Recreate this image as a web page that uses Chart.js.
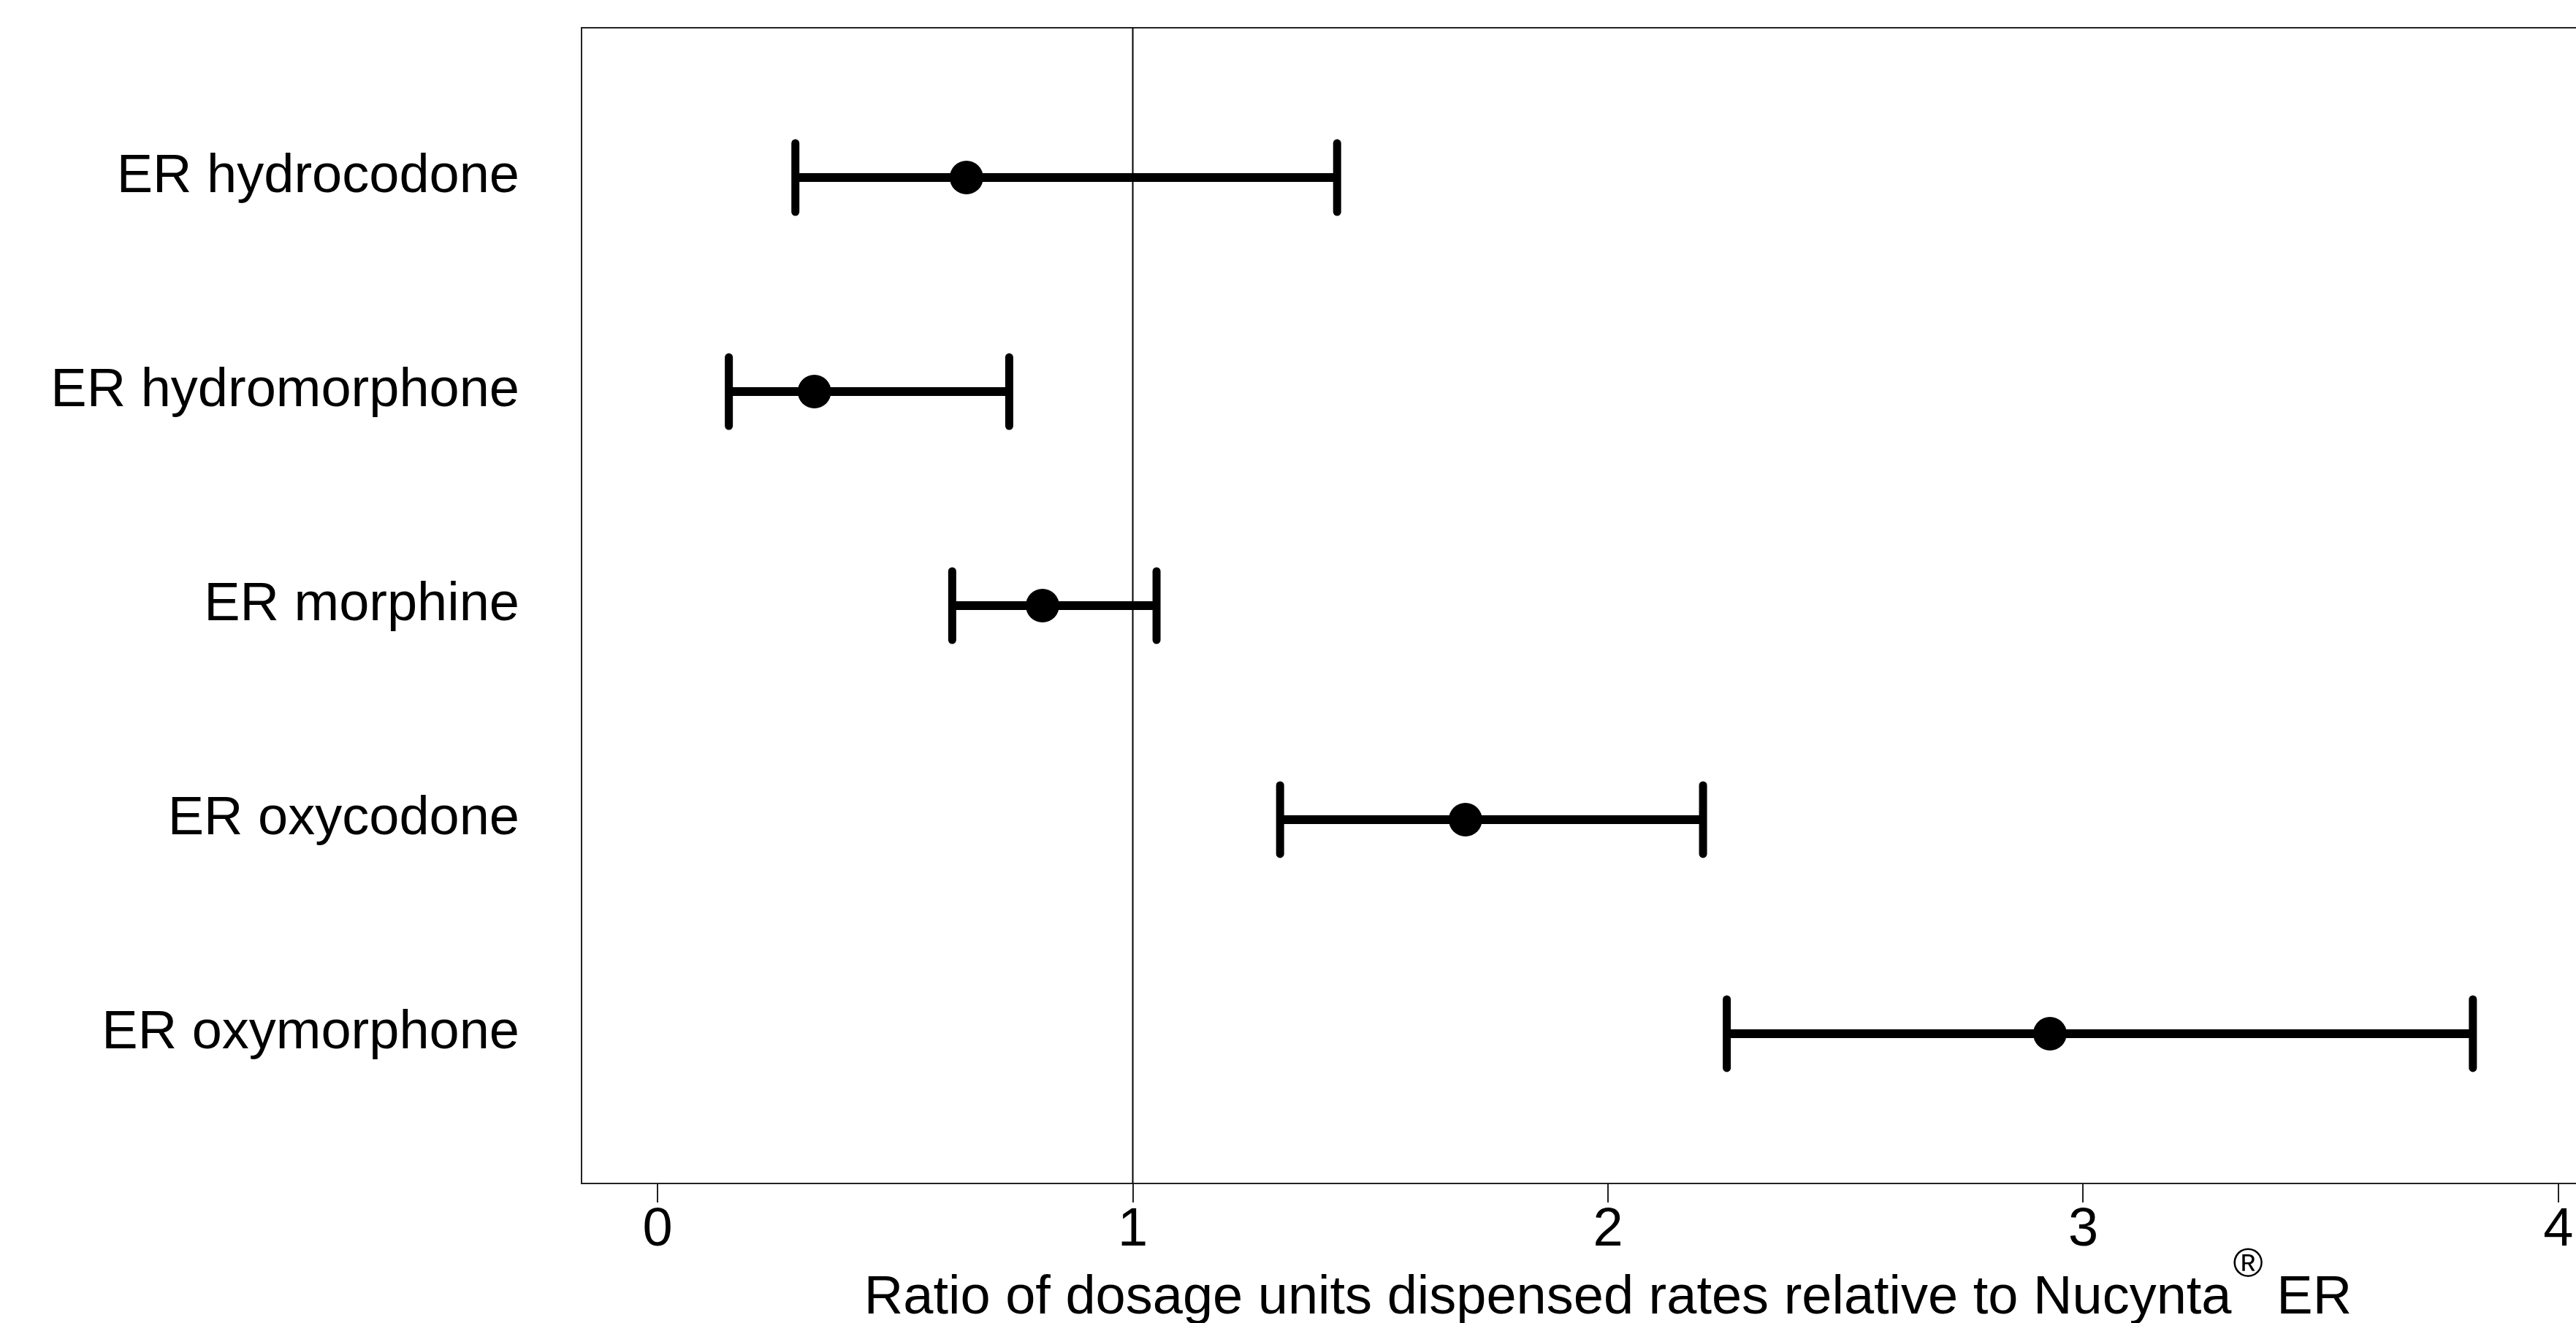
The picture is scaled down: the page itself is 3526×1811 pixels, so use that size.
<!DOCTYPE html>
<html>
<head>
<meta charset="utf-8">
<title>Dosage units ratio</title>
<script src="https://cdn.jsdelivr.net/npm/chart.js@4.4.1/dist/chart.umd.min.js"></script>
<style>
  html, body { margin: 0; padding: 0; background: #fff; overflow: hidden; }
  #wrap { width: 3640px; height: 1811px; }
</style>
</head>
<body>
<div id="wrap"><canvas id="forest"></canvas></div>
<script>
// values
const categories = ['ER hydrocodone', 'ER hydromorphone', 'ER morphine', 'ER oxycodone', 'ER oxymorphone'];
const estimates = [0.65, 0.33, 0.81, 1.70, 2.93];
const lower = [0.29, 0.15, 0.62, 1.31, 2.25];
const upper = [1.43, 0.74, 1.05, 2.20, 3.82];
const xTicks = [0, 1, 2, 3, 4];
const refValue = 1;

const FONT = '"Liberation Sans", Arial, sans-serif';

// one line dataset per row, caps drawn as vertical 'line' points
const barSets = categories.map((name, i) => ({
    label: name,
    type: 'scatter',
    showLine: true,
    data: [{ x: lower[i], y: i + 1 }, { x: upper[i], y: i + 1 }],
    borderColor: '#000',
    borderWidth: 12,
    pointStyle: 'line',
    rotation: 90,
    pointRadius: 47,
    pointBorderWidth: 11,
    pointBorderColor: '#000',
    order: 1,
    clip: false
}));

// box round the plot area + x axis title with superscript mark
const framePlugin = {
    id: 'frame',
    beforeDatasetsDraw(chart) {
        const { ctx, chartArea } = chart;
        ctx.save();
        ctx.strokeStyle = '#222';
        ctx.lineWidth = 2;
        ctx.strokeRect(chartArea.left, chartArea.top, chartArea.right - chartArea.left, chartArea.bottom - chartArea.top);
        ctx.restore();
        ctx.lineCap = 'round';
    },
    afterDraw(chart) {
        const { ctx, chartArea } = chart;
        const main = 'Ratio of dosage units dispensed rates relative to Nucynta';
        const mark = '\u00AE';
        const tail = ' ER';
        ctx.save();
        ctx.fillStyle = '#000';
        ctx.textBaseline = 'alphabetic';
        ctx.textAlign = 'left';
        ctx.font = '74px ' + FONT;
        const wMain = ctx.measureText(main).width;
        const wTail = ctx.measureText(tail).width;
        ctx.font = '56px ' + FONT;
        const wMark = ctx.measureText(mark).width;
        const total = wMain + wMark + wTail;
        let x = (chartArea.left + chartArea.right) / 2 - total / 2;
        const base = 1798;
        ctx.font = '74px ' + FONT;
        ctx.fillText(main, x, base);
        x += wMain;
        ctx.font = '56px ' + FONT;
        ctx.fillText(mark, x + 2, base - 50);
        x += wMark;
        ctx.font = '74px ' + FONT;
        ctx.fillText(tail, x, base);
        ctx.restore();
    }
};

new Chart(document.getElementById('forest'), {
    type: 'scatter',
    data: {
        datasets: [
            {
                label: 'Estimate',
                data: estimates.map((v, i) => ({ x: v, y: i + 1 })),
                pointRadius: 23,
                pointBackgroundColor: '#000',
                pointBorderWidth: 0,
                order: 0,
                clip: false
            },
            ...barSets,
            {
                label: 'Reference',
                showLine: true,
                data: [{ x: refValue, y: 0.3 }, { x: refValue, y: 5.7 }],
                borderColor: '#000',
                borderWidth: 2,
                pointRadius: 0,
                order: 2
            }
        ]
    },
    options: {
        responsive: true,
        maintainAspectRatio: false,
        devicePixelRatio: 1,
        animation: false,
        events: [],
        layout: { autoPadding: false, padding: { top: 38, right: 34, bottom: 0, left: 0 } },
        plugins: {
            legend: { display: false },
            tooltip: { enabled: false }
        },
        scales: {
            x: {
                type: 'linear',
                min: -0.16,
                max: 4.16,
                afterBuildTicks: scale => { scale.ticks = xTicks.map(v => ({ value: v })); },
                afterFit: scale => { scale.height = 191; },
                border: { display: false },
                grid: {
                    display: true,
                    drawOnChartArea: false,
                    drawTicks: true,
                    tickLength: 26,
                    color: '#222',
                    lineWidth: 2
                },
                ticks: {
                    color: '#000',
                    padding: 2,
                    maxRotation: 0,
                    font: { family: FONT, size: 74, lineHeight: 1 }
                }
            },
            y: {
                type: 'linear',
                min: 0.3,
                max: 5.7,
                reverse: true,
                afterBuildTicks: scale => { scale.ticks = categories.map((_, i) => ({ value: i + 1 })); },
                afterFit: scale => {
                    scale.width = 796;
                    scale.paddingTop = 0;
                    scale.paddingBottom = 0;
                },
                border: { display: false },
                grid: { display: false, drawTicks: false, tickLength: 0 },
                ticks: {
                    color: '#000',
                    padding: 85,
                    crossAlign: 'near',
                    callback: value => categories[value - 1],
                    font: { family: FONT, size: 74, lineHeight: 1 }
                }
            }
        }
    },
    plugins: [framePlugin]
});
</script>
</body>
</html>
